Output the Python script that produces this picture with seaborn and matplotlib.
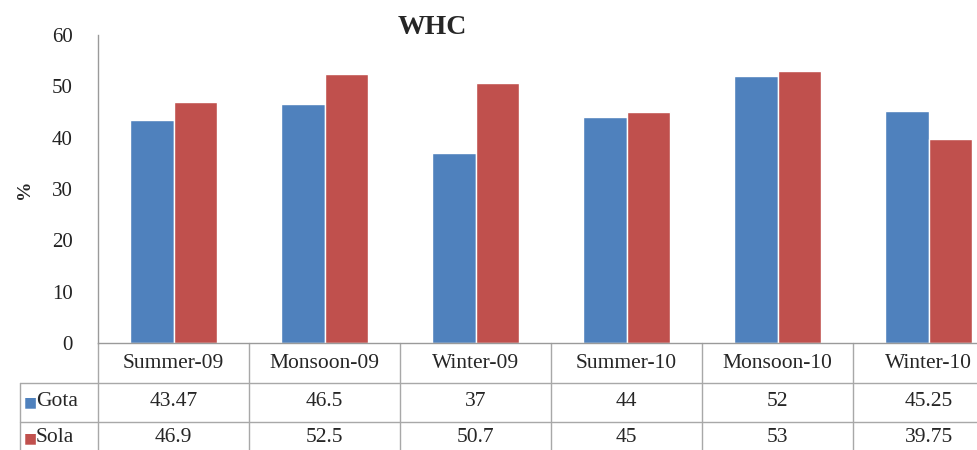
import matplotlib
matplotlib.use("Agg")
import matplotlib.pyplot as plt
import seaborn as sns
import pandas as pd

seasons = ["Summer-09", "Monsoon-09", "Winter-09", "Summer-10", "Monsoon-10", "Winter-10"]
gota = [43.47, 46.5, 37, 44, 52, 45.25]
sola = [46.9, 52.5, 50.7, 45, 53, 39.75]
gota_labels = ["43.47", "46.5", "37", "44", "52", "45.25"]
sola_labels = ["46.9", "52.5", "50.7", "45", "53", "39.75"]
sites = ["Gota", "Sola"]
colors = ["#4F81BD", "#C0504D"]

df = pd.DataFrame({
    "season": seasons * 2,
    "value": gota + sola,
    "site": ["Gota"] * len(seasons) + ["Sola"] * len(seasons),
})

sns.set_style("white")
plt.rcParams["font.family"] = ["Liberation Serif", "DejaVu Serif"]

W, H = 977, 450
fig = plt.figure(figsize=(W / 100, H / 100), dpi=100)
x0, y0, x1, ytop = 98, 343, 98 + 6 * 151, 35
ax = fig.add_axes([x0 / W, (H - y0) / H, (x1 - x0) / W, (y0 - ytop) / H])

sns.barplot(data=df, x="season", y="value", hue="site", palette=colors,
            width=0.57, saturation=1, ax=ax, legend=False, order=seasons,
            hue_order=sites)
ax.set_xlim(-0.5, 5.5)
ax.set_ylim(0, 60)
ax.set_yticks(range(0, 61, 10))
ax.tick_params(axis="y", labelsize=15, colors="#222222", length=0, pad=18)
ax.set_xticks([])
ax.set_xlabel("")
ax.set_ylabel("%", fontsize=14, fontweight="bold", labelpad=14)
for s in ["top", "right"]:
    ax.spines[s].set_visible(False)
for s in ["left", "bottom"]:
    ax.spines[s].set_color("#9A9A9A")
    ax.spines[s].set_linewidth(1)

fig.text(432 / W, 1 - 27 / H, "WHC", ha="center", va="center",
         fontsize=20, fontweight="bold")

# data table below the axes
tr = ax.get_xaxis_transform()
def ya(py):
    return (y0 - py) / (y0 - ytop)

line_kw = dict(color="#A8A8A8", lw=1, clip_on=False, transform=tr)
row_lines = [383, 422]
for py in row_lines:
    ax.plot([-0.5 - 78 / 151, 5.5], [ya(py), ya(py)], **line_kw)
for i in range(len(seasons) + 1):
    ax.plot([i - 0.5, i - 0.5], [ya(y0), ya(470)], **line_kw)
ax.plot([-0.5 - 78 / 151] * 2, [ya(383), ya(470)], **line_kw)

fs = 15.5
for i, s in enumerate(seasons):
    ax.text(i, ya(364), s, ha="center", va="center", fontsize=fs,
            transform=tr, clip_on=False)
    ax.text(i, ya(402), gota_labels[i], ha="center", va="center",
            fontsize=fs, transform=tr, clip_on=False)
    ax.text(i, ya(438), sola_labels[i], ha="center", va="center",
            fontsize=fs, transform=tr, clip_on=False)

for lab, col, py in zip(sites, colors, [402, 438]):
    fig.text(30 / W, 1 - py / H, "\u25A0", color=col, fontsize=10,
             ha="center", va="center", family="DejaVu Sans")
    fig.text(36 / W, 1 - py / H, lab, fontsize=fs, ha="left", va="center")

fig.savefig("out.png", dpi=100)
